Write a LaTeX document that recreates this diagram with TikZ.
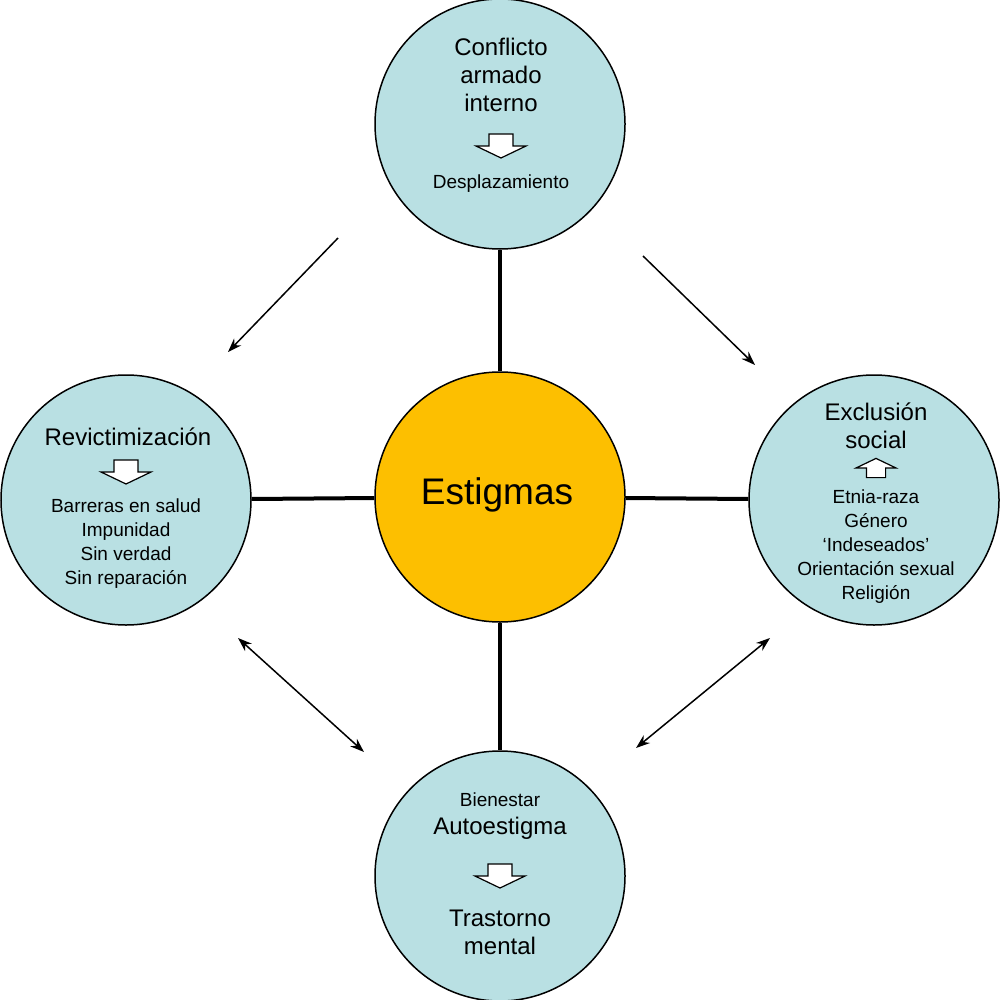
\documentclass[tikz,border=0pt]{standalone}
\usepackage{fontspec}
\setmainfont{Liberation Sans}
\usetikzlibrary{arrows.meta}
\definecolor{blueC}{HTML}{B9E0E3}
\definecolor{orangeC}{HTML}{FDBF00}
\begin{document}
\begin{tikzpicture}[x=1pt,y=-1pt,
  circ/.style={circle,draw=black,line width=1.5pt,fill=blueC,minimum size=250pt,inner sep=0pt,align=center},
  big/.style={font=\fontsize{24}{28}\selectfont},
  sm/.style={font=\fontsize{19}{24}\selectfont},
  link/.style={line width=4pt},
  arr/.style={line width=1.5pt,-{Stealth[length=14pt,width=10pt]}},
  darr/.style={line width=1.5pt,{Stealth[length=14pt,width=10pt]}-{Stealth[length=14pt,width=10pt]}},
  pics/blk/.style={code={\draw[fill=white,line width=1.2pt] (-12,-12)--(12,-12)--(12,0)--(25,0)--(0,12)--(-25,0)--(-12,0)--cycle;}}
]
\useasboundingbox (0,0) rectangle (1000,1000);
\node[circ] (t) at (500,124) {};
\node[circ] (l) at (126,500) {};
\node[circ] (r) at (874,500) {};
\node[circ] (b) at (500,876) {};
\node[circ,fill=orangeC] (c) at (500,497) {};
\draw[link] (c)--(t); \draw[link] (c)--(l); \draw[link] (c)--(r); \draw[link] (c)--(b);
\node[font=\fontsize{37}{40}\selectfont] (ct) at (497,495) {Estigmas};
% top
\node[big,align=center] (t1) at (501,75) {Conflicto\\armado\\interno};
\pic at (501,146) {blk};
\node[sm] (t2) at (501,184) {Desplazamiento};
% left
\node[big] (l1) at (128,437) {Revictimización};
\pic at (126,472) {blk};
\node[sm,align=center] (l2) at (126,544) {Barreras en salud\\Impunidad\\Sin verdad\\Sin reparación};
% right
\node[big,align=center] (r1) at (876,426) {Exclusión\\social};
\pic[rotate=180,scale=0.8] at (876,468) {blk};
\node[sm,align=center] (r2) at (876,547) {Etnia-raza\\Género\\‘Indeseados’\\Orientación sexual\\Religión};
% bottom
\node[sm] (b1) at (500,800) {Bienestar};
\node[big] (b2) at (500,828) {Autoestigma};
\pic at (500,876) {blk};
\node[big,align=center] (b3) at (500,932) {Trastorno\\mental};
% arrows
\coordinate (a1) at (338,238); \coordinate (a2) at (228,352);
\coordinate (a3) at (643,256); \coordinate (a4) at (755,365);
\coordinate (a5) at (238,638); \coordinate (a6) at (364,752);
\coordinate (a7) at (770,638); \coordinate (a8) at (636,748);
\draw[arr] (a1)--(a2); \draw[arr] (a3)--(a4);
\draw[darr] (a5)--(a6); \draw[darr] (a7)--(a8);
\end{tikzpicture}
\end{document}
